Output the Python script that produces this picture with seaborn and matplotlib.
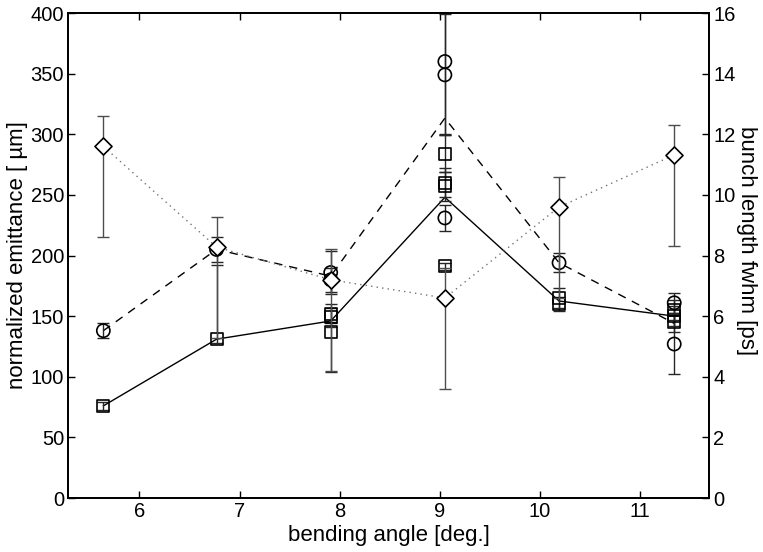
import numpy as np
import pandas as pd
import matplotlib
matplotlib.use('Agg')
import matplotlib.pyplot as plt
import seaborn as sns

sns.set_style('white')
plt.rcParams['font.family'] = ['Liberation Sans', 'DejaVu Sans']
plt.rcParams['text.color'] = 'black'
plt.rcParams['axes.labelcolor'] = 'black'
plt.rcParams['xtick.color'] = 'black'
plt.rcParams['ytick.color'] = 'black'

# bending angles [deg.]
angles = [5.64, 6.77, 7.91, 9.05, 10.19, 11.34]

# emittance, square markers (solid line through the mean)
sq_x = [5.64, 6.77, 7.91, 7.91, 7.91, 9.05, 9.05, 9.05, 9.05, 10.19, 10.19, 11.34, 11.34, 11.34]
sq_y = [76, 131, 152, 149, 137, 284, 260, 257, 191, 165, 160, 155, 150, 145]
sq_lo = [3, 3, 8, 8, 33, 15, 12, 12, 3, 8, 6, 8, 8, 8]
sq_hi = [3, 61, 8, 8, 8, 15, 12, 12, 3, 8, 6, 8, 8, 8]

# emittance, circle markers (dashed line through the mean)
ci_x = [5.64, 6.77, 7.91, 7.91, 9.05, 9.05, 9.05, 10.19, 11.34, 11.34]
ci_y = [138, 205, 186, 180, 360, 349, 231, 194, 161, 127]
ci_err = [6, 10, 18, 10, 60, 50, 11, 8, 8, 25]

# bunch length fwhm [ps], diamonds (dotted line)
bl_y = [11.6, 8.28, 7.2, 6.6, 9.6, 11.32]
bl_lo = [3, 3, 3, 3, 3, 3]
bl_hi = [1, 1, 1, 1, 1, 1]

sq = pd.DataFrame({'angle': sq_x, 'emit': sq_y})
ci = pd.DataFrame({'angle': ci_x, 'emit': ci_y})
bl = pd.DataFrame({'angle': angles, 'fwhm': bl_y})

fig = plt.figure(figsize=(7.63, 5.52), dpi=100)
ax = fig.add_axes([0.0895, 0.0978, 0.8401, 0.8786])
ax2 = ax.twinx()

# mean lines
sns.lineplot(data=sq, x='angle', y='emit', estimator='mean', errorbar=None,
             color='black', lw=1, ax=ax)
sns.lineplot(data=ci, x='angle', y='emit', estimator='mean', errorbar=None,
             color='black', lw=1, ax=ax)
ax.lines[-1].set_dashes([6, 5])
sns.lineplot(data=bl, x='angle', y='fwhm', color='0.45', lw=1, ax=ax2)
ax2.lines[-1].set_dashes([1, 3])

# error bars
ax.errorbar(sq_x, sq_y, yerr=[sq_lo, sq_hi], fmt='none', ecolor='0.15',
            elinewidth=1, capsize=4)
ax.errorbar(ci_x, ci_y, yerr=ci_err, fmt='none', ecolor='0.15',
            elinewidth=1, capsize=4)
ax2.errorbar(angles, bl_y, yerr=[bl_lo, bl_hi], fmt='none', ecolor='0.3',
             elinewidth=1, capsize=4)

# markers
sns.scatterplot(data=sq, x='angle', y='emit', marker='s', s=75,
                facecolor='none', edgecolor='black', linewidth=1.2, ax=ax, zorder=5)
sns.scatterplot(data=ci, x='angle', y='emit', marker='o', s=90,
                facecolor='none', edgecolor='black', linewidth=1.2, ax=ax, zorder=5)
sns.scatterplot(data=bl, x='angle', y='fwhm', marker='D', s=75,
                facecolor='white', edgecolor='black', linewidth=1.2, ax=ax2, zorder=5)

ax.set_xlim(5.29, 11.69)
ax.set_ylim(0, 400)
ax2.set_ylim(0, 16)
ax.set_xticks([6, 7, 8, 9, 10, 11])
ax.set_yticks(np.arange(0, 401, 50))
ax2.set_yticks(np.arange(0, 17, 2))

ax.set_xlabel('bending angle [deg.]', fontsize=16, labelpad=3)
ax.set_ylabel('normalized emittance [ µm]', fontsize=16, labelpad=2)
ax2.set_ylabel('bunch length fwhm [ps]', fontsize=16, rotation=270,
               va='center', ha='center')
ax2.yaxis.set_label_coords(1.058, 0.53)

ax.tick_params(axis='both', direction='in', length=5, width=1, labelsize=14.5,
               top=True, left=True, bottom=True, right=False, pad=3)
ax2.tick_params(axis='y', direction='in', length=5, width=1, labelsize=14.5, pad=3)

for a in (ax, ax2):
    for sp in a.spines.values():
        sp.set_linewidth(1.3)
        sp.set_color('black')

fig.savefig('out.png', dpi=100)
